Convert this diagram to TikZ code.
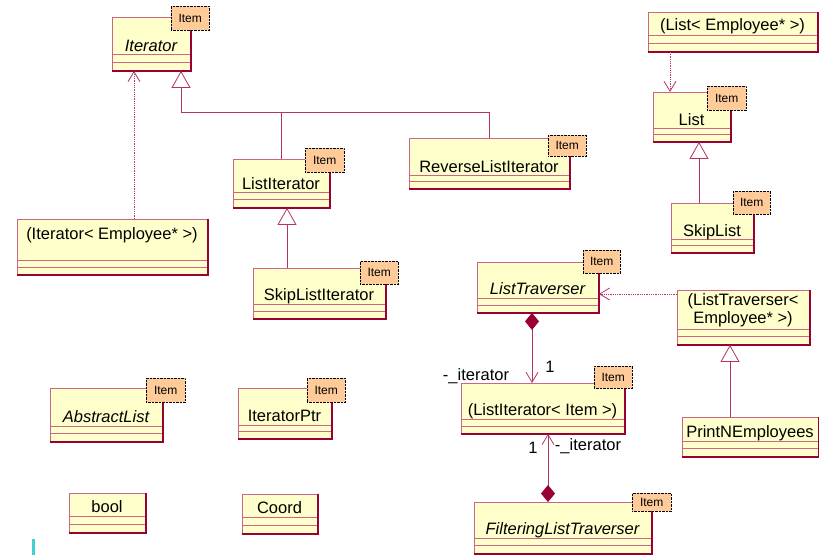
\documentclass[tikz,border=0pt]{standalone}
\usepackage{fontspec}
\setmainfont{Liberation Sans}
\usetikzlibrary{arrows.meta}
\definecolor{umlFill}{RGB}{255,255,204}
\definecolor{umlEdge}{RGB}{204,102,136}
\definecolor{umlDark}{RGB}{153,0,51}
\definecolor{umlLine}{RGB}{180,50,100}
\definecolor{tagFill}{RGB}{255,204,153}
\definecolor{markCyan}{RGB}{64,208,208}
% class box: name, left, top, right, bottom, name line, text baseline, text
\newcommand{\umlclass}[8]{%
\node[classbox,minimum width={#4pt-#2pt},minimum height={#5pt-#3pt}] (#1) at (#2,#3) {};
\draw[compline] (#2,#6) -- (#4,#6) (#2,{(#6+#5)/2}) -- (#4,{(#6+#5)/2});
\draw[boxshade] (#1.north east) -- (#1.south east) -- (#1.south west);
\node[classname] (#1-name) at ({(#2+#4)/2},#7) {#8};}

\begin{document}
\begin{tikzpicture}[x=1pt,y=-1pt,
  classbox/.style={draw=umlEdge,fill=umlFill,line width=0.9pt,inner sep=0,anchor=north west},
  compline/.style={draw=umlEdge,line width=0.9pt},
  boxshade/.style={draw=umlDark,line width=1.3pt},
  classname/.style={anchor=base,inner sep=0,font=\fontsize{16.5}{18}\selectfont},
  itemtag/.style={draw=black,densely dotted,fill=tagFill,inner sep=0,anchor=north west,
    minimum width=38pt,minimum height=24pt,font=\fontsize{12}{14}\selectfont},
  rolelabel/.style={inner sep=0,font=\fontsize{16.5}{18}\selectfont},
  assoc/.style={draw=umlLine,line width=0.8pt},
  inherit/.style={assoc,-{Triangle[open,length=17pt,width=19pt,fill=white]}},
  depend/.style={assoc,densely dotted,-{Straight Barb[length=10pt,width=12pt]}},
  compose/.style={assoc,{Diamond[length=17pt,width=14pt,color=umlDark]}-{Straight Barb[length=10pt,width=12pt]}}]
\useasboundingbox (0,0) rectangle (819,555);

\umlclass{Iter}{112}{17}{190}{70}{54}{51}{\itshape Iterator}
\umlclass{LI}{233}{159}{329}{207}{192}{189}{ListIterator}
\umlclass{RLI}{409}{138}{569}{188}{175}{172}{ReverseListIterator}
\umlclass{IterEmp}{17}{219}{207}{274}{260}{239}{(Iterator< Employee* >)}
\umlclass{SLI}{253}{268}{385}{318}{304}{300}{SkipListIterator}
\umlclass{ListEmp}{648}{12}{817}{51}{35}{30}{(List< Employee* >)}
\umlclass{List}{653}{92}{730}{141}{128}{125}{List}
\umlclass{SL}{671}{203}{753}{252}{239}{236}{SkipList}
\umlclass{LT}{477}{262}{598}{312}{298}{294}{\itshape ListTraverser}
\umlclass{LTEmp}{677}{290}{809}{344}{329}{323}{\begin{tabular}[b]{@{}c@{}}(ListTraverser<\\Employee* >)\end{tabular}}
\umlclass{PNE}{682}{417}{818}{456}{441}{437}{PrintNEmployees}
\umlclass{LII}{461}{383}{624}{433}{419}{415}{(ListIterator< Item >)}
\umlclass{FLT}{474}{502}{651}{553}{538}{534}{\itshape FilteringListTraverser}
\umlclass{AL}{50}{388}{162}{441}{426}{422}{\itshape AbstractList}
\umlclass{IP}{238}{388}{331}{438}{425}{421}{IteratorPtr}
\umlclass{Bool}{69}{493}{145}{532}{516}{512}{bool}
\umlclass{Coord}{242}{494}{317}{533}{517}{513}{Coord}

\node[itemtag] (tagIter) at (171,6) {Item};
\node[itemtag,minimum width=39pt] (tagLI) at (305,148) {Item};
\node[itemtag,minimum height=21pt] (tagRLI) at (548,135) {Item};
\node[itemtag,minimum height=23pt] (tagSLI) at (360,261) {Item};
\node[itemtag,minimum width=39pt] (tagList) at (707,86) {Item};
\node[itemtag,minimum width=37pt,minimum height=23pt] (tagSL) at (733,191) {Item};
\node[itemtag,minimum width=37pt,minimum height=23pt] (tagLT) at (583,250) {Item};
\node[itemtag,minimum height=22pt] (tagLII) at (594,366) {Item};
\node[itemtag,minimum width=39pt,minimum height=18pt] (tagFLT) at (632,493) {Item};
\node[itemtag,minimum width=39pt] (tagAL) at (146,378) {Item};
\node[itemtag] (tagIP) at (307,378) {Item};

\coordinate (genJoin) at (181,112);
\draw[inherit] (genJoin) -- (Iter.south -| genJoin);
\draw[assoc] (LI.north) |- (genJoin);
\draw[assoc] (RLI.north) |- (genJoin);
\draw[depend] (IterEmp.north -| 134,0) -- (Iter.south -| 134,0);
\draw[inherit] (SLI.north -| 287,0) -- (LI.south -| 287,0);
\draw[depend] (ListEmp.south -| 670,0) -- (List.north -| 670,0);
\draw[inherit] (SL.north -| 699,0) -- (List.south -| 699,0);
\draw[depend] (LTEmp.west |- 0,294) -- (LT.east |- 0,294);
\draw[inherit] (PNE.north -| 730,0) -- (LTEmp.south -| 730,0);
\draw[compose] (LT.south -| 532,0) -- (LII.north -| 532,0);
\draw[compose] (FLT.north -| 548,0) -- (LII.south -| 548,0);

\node[rolelabel] (mulTop) at (550,367) {1};
\node[rolelabel] (roleTop) at (476,376) {-\_iterator};
\node[rolelabel] (mulBot) at (533,448) {1};
\node[rolelabel] (roleBot) at (588,446) {-\_iterator};

\fill[markCyan] (32,539) rectangle (35,555);
\end{tikzpicture}
\end{document}
